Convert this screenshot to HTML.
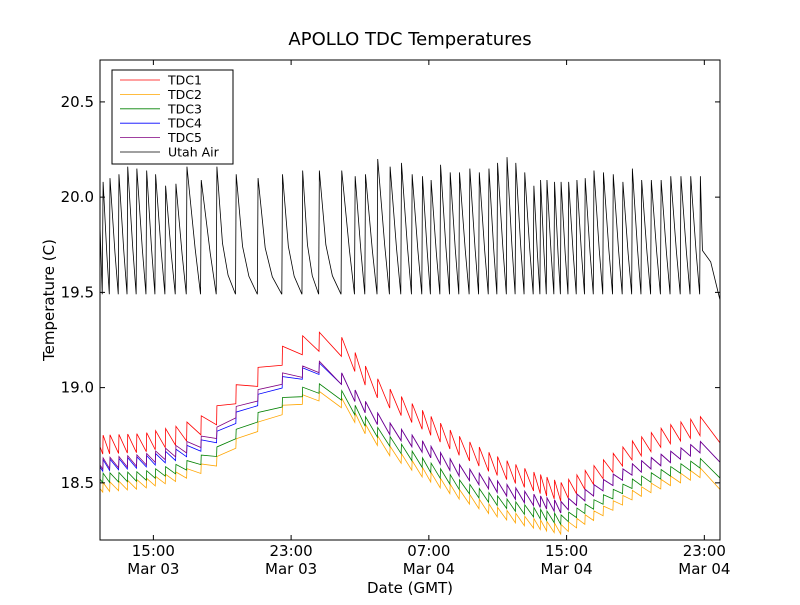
<!DOCTYPE html>
<html><head><meta charset="utf-8"><style>
body{margin:0;background:#fff}
svg text{font-family:"DejaVu Sans","Liberation Sans",sans-serif}
</style></head><body>
<svg id="chart" width="800" height="600" xmlns="http://www.w3.org/2000/svg">
<rect width="800" height="600" fill="#fff"/>
<text x="410" y="45" font-size="18" text-anchor="middle">APOLLO TDC Temperatures</text>
<text x="410" y="593" font-size="15" text-anchor="middle">Date (GMT)</text>
<text x="0" y="0" font-size="15" text-anchor="middle" transform="translate(54,300) rotate(-90)">Temperature (C)</text>
<g id="series"></g>
<g id="axes"></g>
<rect x="100" y="60" width="620" height="480" fill="none" stroke="#000" stroke-width="1"/>
<g>
<rect x="112" y="70" width="121" height="94" fill="#fff" stroke="#000"/>
<g id="legend"></g>
</g>
</svg>
<script>
const peakTimes=[12.08,12.48,13.00,13.51,14.04,14.61,15.13,15.71,16.31,16.95,17.78,18.69,19.81,21.08,22.50,23.67,24.64,25.94,26.72,27.32,28.03,28.75,29.41,30.03,30.63,31.13,31.68,32.24,32.78,33.38,33.93,34.49,34.99,35.54,36.05,36.57,37.10,37.49,37.86,38.30,38.68,39.12,39.60,40.08,40.59,41.14,41.71,42.27,42.82,43.36,43.92,44.49,45.05,45.64,46.21,46.77];
const peakValues=[20.08,20.10,20.12,20.16,20.15,20.14,20.12,20.06,20.07,20.16,20.09,20.16,20.12,20.10,20.12,20.14,20.14,20.14,20.11,20.12,20.20,20.16,20.18,20.12,20.11,20.09,20.17,20.13,20.13,20.15,20.13,20.15,20.18,20.21,20.18,20.13,20.06,20.09,20.09,20.08,20.08,20.08,20.09,20.10,20.14,20.13,20.12,20.08,20.15,20.09,20.09,20.09,20.11,20.11,20.11,20.11];
const airTrough=19.49;
const envTimes=[11.9,14.43,16.46,18.48,19.5,20.51,21.52,22.54,23.55,24.56,25.58,26.59,27.6,28.62,30.65,32.67,34.7,36.73,38.75,40.78,42.81,44.83,46.86,47.91];
const tdc1=[18.75,18.76,18.8,18.88,19.0,19.05,19.15,19.22,19.27,19.29,19.3,19.2,19.08,19.0,18.88,18.75,18.65,18.57,18.5,18.6,18.72,18.8,18.85,18.78];
const tdc2=[18.5,18.52,18.56,18.62,18.71,18.78,18.85,18.91,18.96,18.98,18.98,18.88,18.78,18.7,18.58,18.47,18.38,18.32,18.28,18.36,18.46,18.53,18.58,18.5];
const tdc3=[18.55,18.56,18.6,18.67,18.76,18.83,18.9,18.95,19.0,19.02,19.02,18.92,18.82,18.75,18.63,18.52,18.44,18.38,18.33,18.42,18.52,18.58,18.63,18.56];
const tdc4=[18.62,18.64,18.68,18.75,18.85,18.92,19.0,19.06,19.1,19.13,19.12,19.0,18.9,18.82,18.72,18.6,18.52,18.45,18.4,18.5,18.6,18.66,18.72,18.65];
const tdc5=[18.63,18.65,18.7,18.77,18.88,18.95,19.02,19.08,19.11,19.14,19.12,19.0,18.9,18.82,18.72,18.6,18.52,18.45,18.4,18.5,18.6,18.66,18.72,18.65];
const toothAmp=[0.1,0.05,0.05,0.06,0.06];
const yTicks=[18.5,19.0,19.5,20.0,20.5];
const xTicks=[15,23,31,39,47];
const xTickLine1=["15:00","23:00","07:00","15:00","23:00"];
const xTickLine2=["Mar 03","Mar 03","Mar 04","Mar 04","Mar 04"];
const seriesNames=["TDC1","TDC2","TDC3","TDC4","TDC5","Utah Air"];
const seriesColors=["#ff0000","#ffa500","#008000","#0000ff","#800080","#000000"];

const X0=100,X1=720,Y0=60,Y1=540,T0=11.9,T1=47.91,V0=18.2,V1=20.72;
const xs=t=>X0+(t-T0)/(T1-T0)*(X1-X0);
const ys=v=>Y1-(v-V0)/(V1-V0)*(Y1-Y0);
const NS="http://www.w3.org/2000/svg";
function env(arr,t){
  if(t<=envTimes[0])return arr[0];
  for(let i=1;i<envTimes.length;i++){if(t<=envTimes[i]){const f=(t-envTimes[i-1])/(envTimes[i]-envTimes[i-1]);return arr[i-1]+f*(arr[i]-arr[i-1]);}}
  return arr[arr.length-1];
}
const sg=document.getElementById('series');
function addPath(d,color,name){
  const p=document.createElementNS(NS,'path');
  p.setAttribute('d',d);p.setAttribute('fill','none');p.setAttribute('stroke',color);p.setAttribute('stroke-width','0.8');
  
  
  sg.appendChild(p);
}
const tdcs=[tdc1,tdc2,tdc3,tdc4,tdc5];
tdcs.forEach((arr,k)=>{
  const a=toothAmp[k];
  let d='M'+xs(T0)+','+ys(env(arr,T0)-a*0.6);
  const pts=[T0].concat(peakTimes).concat([T1]);
  for(let i=1;i<pts.length-1;i++){
    const t=pts[i];
    d+=' L'+xs(t-0.02)+','+ys(env(arr,t)-a);
    d+=' L'+xs(t)+','+ys(env(arr,t));
  }
  d+=' L'+xs(T1)+','+ys(env(arr,T1)-a*0.7);
  addPath(d,seriesColors[k],'series-'+seriesNames[k].toLowerCase());
});
// Utah air
(function(){
  let d='M'+xs(T0)+','+ys(19.85);
  d+=' L'+xs(peakTimes[0]-0.05)+','+ys(airTrough);
  for(let i=0;i<peakTimes.length;i++){
    const t=peakTimes[i];
    d+=' L'+xs(t)+','+ys(peakValues[i]);
    const amp=peakValues[i]-airTrough;
    if(i+1<peakTimes.length){
      const nt=peakTimes[i+1],dt=nt-0.04-t;
      const long=dt>0.9;
      d+=' L'+xs(t+dt*0.3)+','+ys(airTrough+amp*(long?0.4:0.68));
      d+=' L'+xs(t+dt*0.6)+','+ys(airTrough+amp*(long?0.15:0.36));
      d+=' L'+xs(nt-0.04)+','+ys(airTrough);
    }else{
      d+=' L'+xs(t+0.12)+','+ys(19.72)+' L'+xs(t+0.6)+','+ys(19.66)+' L'+xs(T1)+','+ys(19.46);
    }
  }
  addPath(d,'#000','series-utah-air');
})();
// axes ticks
const ag=document.getElementById('axes');
yTicks.forEach(v=>{
  const y=ys(v);
  [[X0,X0+5],[X1,X1-5]].forEach(([a,b])=>{const l=document.createElementNS(NS,'line');l.setAttribute('x1',a);l.setAttribute('x2',b);l.setAttribute('y1',y);l.setAttribute('y2',y);l.setAttribute('stroke','#000');
  
  ag.appendChild(l);});
  const t=document.createElementNS(NS,'text');t.setAttribute('x',X0-6);t.setAttribute('y',y+5);t.setAttribute('font-size','15');t.setAttribute('text-anchor','end');t.textContent=v.toFixed(1);
  
  ag.appendChild(t);
});
xTicks.forEach((h,i)=>{
  const x=xs(h);
  [[Y1,Y1-5],[Y0,Y0+5]].forEach(([a,b])=>{const l=document.createElementNS(NS,'line');l.setAttribute('x1',x);l.setAttribute('x2',x);l.setAttribute('y1',a);l.setAttribute('y2',b);l.setAttribute('stroke','#000');
  
  ag.appendChild(l);});
  [xTickLine1[i],xTickLine2[i]].forEach((s,j)=>{const t=document.createElementNS(NS,'text');t.setAttribute('x',x);t.setAttribute('y',556+j*18);t.setAttribute('font-size','15');t.setAttribute('text-anchor','middle');t.textContent=s;
  
  ag.appendChild(t);});
});
// legend
const lg=document.getElementById('legend');
seriesNames.forEach((n,i)=>{
  const y=80+i*14.4;
  const l=document.createElementNS(NS,'line');l.setAttribute('x1',120);l.setAttribute('x2',160);l.setAttribute('y1',y);l.setAttribute('y2',y);l.setAttribute('stroke',seriesColors[i]);l.setAttribute('stroke-width','0.8');
  
  lg.appendChild(l);
  const t=document.createElementNS(NS,'text');t.setAttribute('x',168);t.setAttribute('y',y+4.5);t.setAttribute('font-size','12.5');t.textContent=n;
  
  lg.appendChild(t);
});
</script>
</body></html>
